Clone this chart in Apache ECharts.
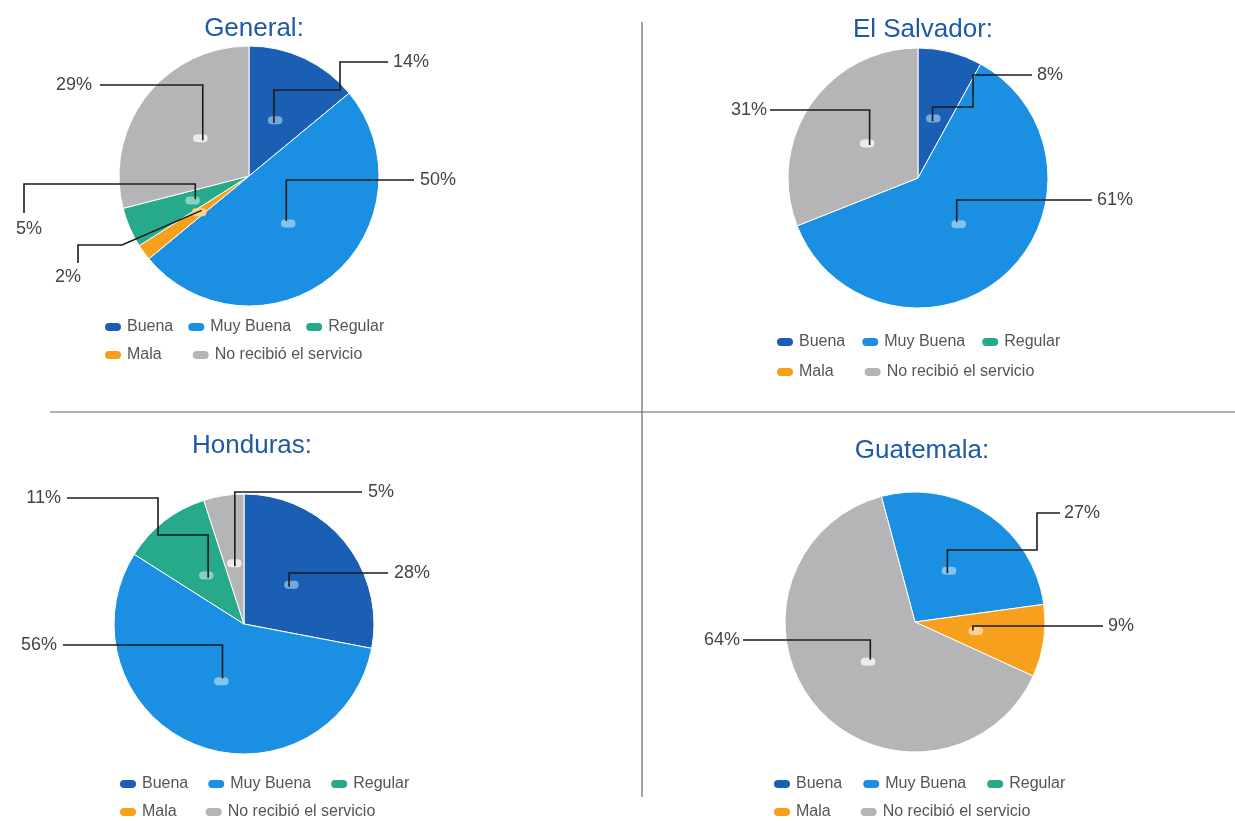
<!DOCTYPE html>
<html>
<head>
<meta charset="utf-8">
<script src="https://cdn.jsdelivr.net/npm/echarts@6/dist/echarts.min.js"></script>
<style>
  html, body { margin: 0; background: #fff; }
  #chart { width: 1235px; height: 821px; }
</style>
</head>
<body>
<div id="chart"></div>
<script>
// categorías en el orden de la leyenda
const categories = ['Buena', 'Muy Buena', 'Regular', 'Mala', 'No recibió el servicio']

// porciones de cada país, en sentido horario desde arriba
const generalSlices = ['Buena', 'Muy Buena', 'Mala', 'Regular', 'No recibió el servicio']
const generalValues = [14, 50, 2, 5, 29]

const salvadorSlices = ['Buena', 'Muy Buena', 'No recibió el servicio']
const salvadorValues = [8, 61, 31]

const hondurasSlices = ['Buena', 'Muy Buena', 'Regular', 'No recibió el servicio']
const hondurasValues = [28, 56, 11, 5]

const guatemalaSlices = ['Muy Buena', 'Mala', 'No recibió el servicio']
const guatemalaValues = [27, 9, 64]

const FONT = '"Liberation Sans", Arial, Helvetica, sans-serif'
const RADIUS = 130

const colors = {
    'Buena': '#1a5fb4',
    'Muy Buena': '#1b8fe2',
    'Regular': '#27a98b',
    'Mala': '#f6a01e',
    'No recibió el servicio': '#b5b5b7'
}
const dotColors = {
    'Buena': '#74a9de',
    'Muy Buena': '#82c3ef',
    'Regular': '#86d2bd',
    'Mala': '#fbd38e',
    'No recibió el servicio': '#ebebeb'
}

// posición de cada panel, títulos, leyendas y rutas de las líneas guía
const panels = [
    {
        title: 'General:', titlePos: [254, 29],
        slices: generalSlices, values: generalValues,
        center: [249, 176], startAngle: 90,
        legend: [{ left: 103, top: 319, gap: 13 }, { left: 103, top: 347, gap: 29 }],
        routes: {
            'Buena': { steps: [['v', 90], ['h', 340], ['v', 62], ['h', 388]], label: [393, 62, 'left'] },
            'Muy Buena': { steps: [['v', 180], ['h', 414]], label: [420, 180, 'left'] },
            'Mala': { steps: [['p', 122, 245], ['h', 78], ['v', 263]], label: [68, 277, 'center'] },
            'Regular': { steps: [['v', 184], ['h', 24], ['v', 213]], label: [29, 229, 'center'] },
            'No recibió el servicio': { steps: [['v', 85], ['h', 100]], label: [92, 85, 'right'] }
        }
    },
    {
        title: 'El Salvador:', titlePos: [923, 30],
        slices: salvadorSlices, values: salvadorValues,
        center: [918, 178], startAngle: 90,
        legend: [{ left: 775, top: 334, gap: 15 }, { left: 775, top: 364, gap: 29 }],
        routes: {
            'Buena': { steps: [['v', 107], ['h', 973], ['v', 75], ['h', 1032]], label: [1037, 75, 'left'] },
            'Muy Buena': { steps: [['v', 200], ['h', 1092]], label: [1097, 200, 'left'] },
            'No recibió el servicio': { steps: [['v', 110], ['h', 770]], label: [767, 110, 'right'] }
        }
    },
    {
        title: 'Honduras:', titlePos: [252, 446],
        slices: hondurasSlices, values: hondurasValues,
        center: [244, 624], startAngle: 90,
        legend: [{ left: 118, top: 776, gap: 18 }, { left: 118, top: 804, gap: 27 }],
        routes: {
            'Buena': { steps: [['v', 573], ['h', 388]], label: [394, 573, 'left'] },
            'Muy Buena': { steps: [['v', 645], ['h', 63]], label: [57, 645, 'right'] },
            'Regular': { steps: [['v', 535], ['h', 158], ['v', 498], ['h', 67]], label: [61, 498, 'right'] },
            'No recibió el servicio': { steps: [['v', 492], ['h', 362]], label: [368, 492, 'left'] }
        }
    },
    {
        title: 'Guatemala:', titlePos: [922, 451],
        slices: guatemalaSlices, values: guatemalaValues,
        center: [915, 622], startAngle: 105,
        legend: [{ left: 772, top: 776, gap: 19 }, { left: 772, top: 804, gap: 28 }],
        routes: {
            'Muy Buena': { steps: [['v', 550], ['h', 1037], ['v', 513], ['h', 1060]], label: [1064, 513, 'left'] },
            'Mala': { steps: [['v', 626], ['h', 1103]], label: [1108, 626, 'left'] },
            'No recibió el servicio': { steps: [['v', 640], ['h', 743]], label: [740, 640, 'right'] }
        }
    }
]

// punto dentro de la porción, en el ángulo medio
const dotPoint = (panel, idx) => {
    const total = panel.values.reduce((a, b) => a + b, 0)
    const before = panel.values.slice(0, idx).reduce((a, b) => a + b, 0)
    const theta = ((90 - panel.startAngle) + 360 * (before + panel.values[idx] / 2) / total) * Math.PI / 180
    const r = RADIUS * 0.45
    return [panel.center[0] + r * Math.sin(theta), panel.center[1] - r * Math.cos(theta)]
}

const routePoints = (panel, idx) => {
    const route = panel.routes[panel.slices[idx]]
    const pts = [dotPoint(panel, idx)]
    route.steps.forEach(step => {
        const last = pts[pts.length - 1]
        if (step[0] === 'v') pts.push([last[0], step[1]])
        else if (step[0] === 'h') pts.push([step[1], last[1]])
        else pts.push([step[1], step[2]])
    })
    return pts
}

const pill = 'path://M5,0 L13,0 A5,5 0 0 1 13,10 L5,10 A5,5 0 0 1 5,0 Z'

const legends = []
panels.forEach(p => {
    const rows = [categories.slice(0, 3), categories.slice(3)]
    rows.forEach((names, r) => {
        legends.push({
            data: names,
            left: p.legend[r].left,
            top: p.legend[r].top,
            itemGap: p.legend[r].gap,
            padding: 0,
            itemWidth: 18,
            itemHeight: 10,
            icon: pill,
            textStyle: { fontSize: 16, color: '#555', fontFamily: FONT }
        })
    })
})

// porciones de color
const pieSeries = panels.map(p => ({
    type: 'pie',
    z: 2,
    center: p.center,
    radius: RADIUS,
    startAngle: p.startAngle,
    clockwise: true,
    emphasis: { scale: false },
    itemStyle: { borderColor: '#fff', borderWidth: 1 },
    label: { show: false },
    labelLine: { show: false },
    data: p.slices.map((name, i) => ({
        name,
        value: p.values[i],
        itemStyle: { color: colors[name] }
    }))
}))

// puntos claros dentro de cada porción
const dotSeries = panels.map(p => ({
    type: 'pie',
    z: 3,
    silent: true,
    center: p.center,
    radius: [0, RADIUS * 0.9],
    startAngle: p.startAngle,
    clockwise: true,
    avoidLabelOverlap: false,
    itemStyle: { color: 'transparent' },
    label: {
        show: true,
        position: 'inside',
        formatter: ' ',
        fontSize: 2,
        padding: [3, 7],
        borderRadius: 8
    },
    labelLine: { show: false },
    data: p.slices.map((name, i) => ({
        name,
        value: p.values[i],
        label: { backgroundColor: dotColors[name] }
    }))
}))

// porcentajes con líneas guía, encima de todo
const labelSeries = panels.map(p => ({
    type: 'pie',
    z: 4,
    silent: true,
    center: p.center,
    radius: RADIUS,
    startAngle: p.startAngle,
    clockwise: true,
    avoidLabelOverlap: false,
    itemStyle: { color: 'transparent' },
    label: {
        show: true,
        position: 'outside',
        formatter: '{c}%',
        fontSize: 18,
        color: '#444',
        fontFamily: FONT
    },
    labelLine: { show: true, lineStyle: { color: '#1c1c1c', width: 1.6 } },
    labelLayout: params => {
        const route = p.routes[p.slices[params.dataIndex]]
        return {
            x: route.label[0],
            y: route.label[1],
            align: route.label[2],
            verticalAlign: 'middle',
            labelLinePoints: routePoints(p, params.dataIndex)
        }
    },
    data: p.slices.map((name, i) => ({ name, value: p.values[i] }))
}))

const graphics = [
    { type: 'line', shape: { x1: 642, y1: 22, x2: 642, y2: 797 }, style: { stroke: '#666', lineWidth: 1.2 } },
    { type: 'line', shape: { x1: 50, y1: 412, x2: 1235, y2: 412 }, style: { stroke: '#666', lineWidth: 1.2 } }
]
panels.forEach(p => {
    graphics.push({
        type: 'text',
        x: p.titlePos[0],
        y: p.titlePos[1],
        style: {
            text: p.title,
            fill: '#1d5aa6',
            font: '26px ' + FONT,
            textAlign: 'center',
            textVerticalAlign: 'middle'
        }
    })
})

const chart = echarts.init(document.getElementById('chart'))
chart.setOption({
    backgroundColor: '#fff',
    animation: false,
    legend: legends,
    graphic: graphics,
    series: [...pieSeries, ...dotSeries, ...labelSeries]
})
</script>
</body>
</html>
